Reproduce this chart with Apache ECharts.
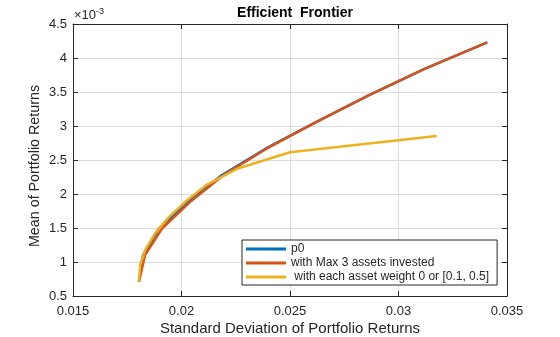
<!DOCTYPE html>
<html>
<head>
<meta charset="utf-8">
<script src="https://cdn.jsdelivr.net/npm/echarts@6/dist/echarts.min.js"></script>
<style>
  html, body { margin: 0; padding: 0; background: #fff; }
  #chart { width: 560px; height: 337px; }
</style>
</head>
<body>
<div id="chart"></div>
<script>
// Portfolio standard deviation vs mean return (mean in units of 1e-3)
const seriesNames = ['p0', 'with Max 3 assets invested', ' with each asset weight 0 or [0.1, 0.5]'];

const p0Risk    = [0.01804, 0.01823, 0.01896, 0.02030, 0.02185, 0.02387, 0.02620, 0.02860, 0.03120, 0.03409];
const p0Return  = [0.711, 1.102, 1.493, 1.884, 2.275, 2.666, 3.057, 3.448, 3.839, 4.230];

const max3Risk   = [0.01804, 0.01832, 0.01910, 0.02040, 0.02193, 0.02392, 0.02620, 0.02860, 0.03120, 0.03409];
const max3Return = [0.711, 1.102, 1.493, 1.884, 2.275, 2.666, 3.057, 3.448, 3.839, 4.230];

const wtRisk   = [0.01804, 0.01809, 0.01834, 0.01879, 0.01943, 0.02023, 0.02118, 0.02260, 0.02500, 0.03176];
const wtReturn = [0.711, 0.949, 1.187, 1.425, 1.663, 1.901, 2.139, 2.376, 2.614, 2.852];

const xTickLabels = ['0.015', '0.02', '0.025', '0.03', '0.035'];
const yTickLabels = ['0.5', '1', '1.5', '2', '2.5', '3', '3.5', '4', '4.5'];

const colors = ['#0072BD', '#D95319', '#EDB120'];
const textColor = '#262626';
const font = 'Liberation Sans, Arial, Helvetica, sans-serif';

function pairs(xs, ys) { return xs.map((x, i) => [x, ys[i]]); }
function pickLabel(list, v) {
  let best = list[0], d = Infinity;
  list.forEach(s => { const e = Math.abs(parseFloat(s) - v); if (e < d) { d = e; best = s; } });
  return best;
}

const chart = echarts.init(document.getElementById('chart'), null, { renderer: 'canvas' });

const boxAxisCommon = {
  axisLine: { show: true, lineStyle: { color: textColor, width: 1 } },
  axisTick: { show: true, inside: true, length: 5, lineStyle: { color: textColor } },
  axisLabel: { show: false },
  splitLine: { show: false }
};

chart.setOption({
  animation: false,
  backgroundColor: '#fff',
  title: {
    text: 'Efficient  Frontier',
    left: 290, top: 1, textAlign: 'center',
    textStyle: { fontFamily: font, fontSize: 14, fontWeight: 'bold', color: '#000' }
  },
  grid: { left: 73, right: 53, top: 24, bottom: 41, containLabel: false, outerBoundsMode: 'none' },
  legend: {
    orient: 'vertical',
    left: 242, top: 240,
    icon: 'rect', itemWidth: 40, itemHeight: 3, itemGap: 2,
    padding: [3, 8, 2, 4],
    backgroundColor: '#fff',
    borderColor: textColor, borderWidth: 1, borderRadius: 0,
    textStyle: { fontFamily: font, fontSize: 12, color: textColor, padding: [0, 0, 0, 0] },
    data: seriesNames
  },
  xAxis: [{
    type: 'value', position: 'bottom',
    min: 0.015, max: 0.035, interval: 0.005,
    name: 'Standard Deviation of Portfolio Returns',
    nameLocation: 'middle', nameGap: 25, nameMoveOverlap: false,
    nameTextStyle: { fontFamily: font, fontSize: 15, color: textColor },
    axisLine: { show: true, onZero: false, lineStyle: { color: textColor, width: 1 } },
    axisTick: { show: true, inside: true, length: 5, lineStyle: { color: textColor } },
    axisLabel: {
      fontFamily: font, fontSize: 13, color: textColor, margin: 9,
      formatter: v => pickLabel(xTickLabels, v)
    },
    splitLine: { show: true, lineStyle: { color: '#dcdcdc', width: 1 } }
  }, Object.assign({
    type: 'value', position: 'top', min: 0.015, max: 0.035, interval: 0.005
  }, boxAxisCommon)],
  yAxis: [{
    type: 'value', position: 'left',
    min: 0.5, max: 4.5, interval: 0.5,
    name: 'Mean of Portfolio Returns',
    nameLocation: 'middle', nameGap: 31, nameMoveOverlap: false,
    nameTextStyle: { fontFamily: font, fontSize: 14.3, color: textColor, padding: [0, 12, 0, 0] },
    axisLine: { show: true, onZero: false, lineStyle: { color: textColor, width: 1 } },
    axisTick: { show: true, inside: true, length: 5, lineStyle: { color: textColor } },
    axisLabel: {
      fontFamily: font, fontSize: 13, color: textColor, margin: 6,
      formatter: v => pickLabel(yTickLabels, v)
    },
    splitLine: { show: true, lineStyle: { color: '#dcdcdc', width: 1 } }
  }, Object.assign({
    type: 'value', position: 'right', min: 0.5, max: 4.5, interval: 0.5
  }, boxAxisCommon)],
  graphic: [{
    type: 'text', left: 74, top: 7,
    style: {
      text: '{a|×10}{b|-3}',
      rich: {
        a: { fontFamily: font, fontSize: 13, fill: textColor, verticalAlign: 'bottom' },
        b: { fontFamily: font, fontSize: 9, fill: textColor, verticalAlign: 'top', padding: [0, 0, 6, 0] }
      }
    }
  }],
  series: [
    { name: seriesNames[0], type: 'line', data: pairs(p0Risk, p0Return), color: colors[0],
      showSymbol: false, symbol: 'none', lineStyle: { width: 2.5, color: colors[0] }, z: 2 },
    { name: seriesNames[1], type: 'line', data: pairs(max3Risk, max3Return), color: colors[1],
      showSymbol: false, symbol: 'none', lineStyle: { width: 2.5, color: colors[1] }, z: 3 },
    { name: seriesNames[2], type: 'line', data: pairs(wtRisk, wtReturn), color: colors[2],
      showSymbol: false, symbol: 'none', lineStyle: { width: 2.5, color: colors[2] }, z: 4 }
  ]
});
</script>
</body>
</html>
